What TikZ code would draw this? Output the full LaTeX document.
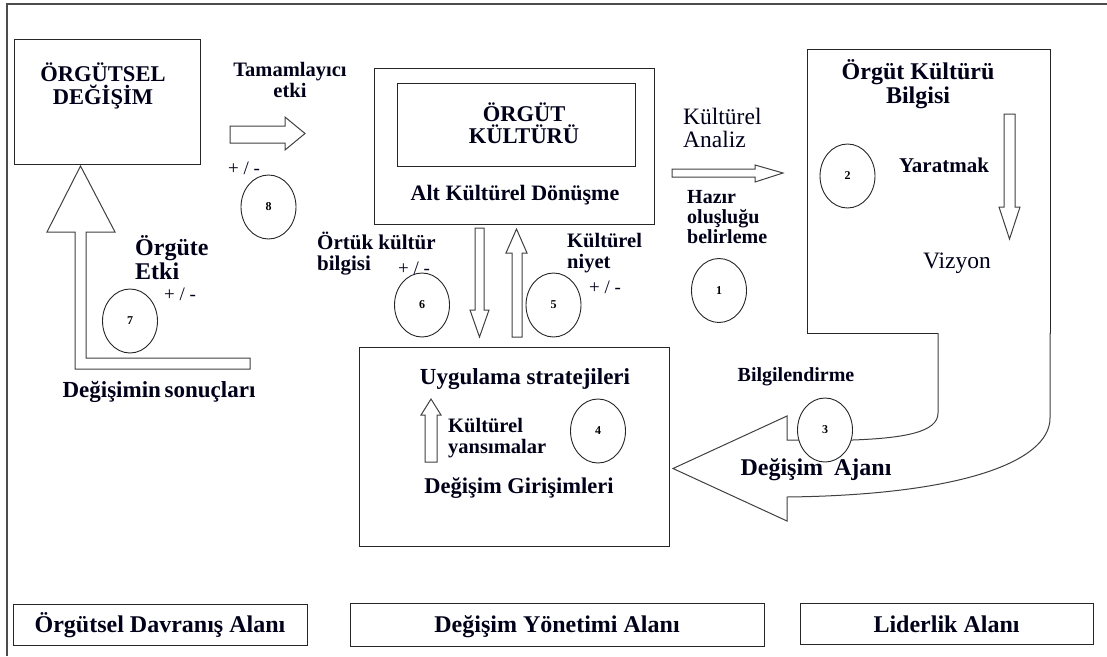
\documentclass[tikz,border=0pt]{standalone}
\usepackage{fontspec}
\setmainfont{Liberation Serif}
\usetikzlibrary{shapes.geometric}
\newcommand{\fsz}[2]{\fontsize{#1}{#2}\selectfont}
\tikzset{
  box/.style={draw=black!85, line width=1.1pt},
  num/.style={draw=black!85, line width=0.9pt, ellipse, minimum width=55pt, minimum height=64pt, inner sep=0pt, fill=white, font=\bfseries\fsz{12}{12}},
  blk/.style={draw=black!75, line width=1pt, fill=white, line join=miter},
  frame/.style={draw=black!70, line width=1.3pt},
  bt/.style={font=\bfseries\fsz{#1}{#1}, inner sep=0pt, text=black!90!blue},
  rt/.style={font=\fsz{#1}{#1}, inner sep=0pt, text=black!90!blue},
}
\begin{document}
\begin{tikzpicture}[x=1pt,y=-1pt]
\useasboundingbox (0,0) rectangle (1107,656);
% outer frame (left and top only)
\draw[frame] (7,656) -- (7,4) -- (1107,4);

% boxes
\node[box, minimum width=186pt, minimum height=125pt, anchor=north west] (oc) at (14,39) {};
\node[box, minimum width=280pt, minimum height=156pt, anchor=north west] (kult) at (374,68) {};
\node[box, minimum width=238pt, minimum height=83pt, anchor=north west] (kultin) at (397,83) {};
\node[box, minimum width=243pt, minimum height=284pt, anchor=north west] (bilgi) at (807,49) {};
\node[box, minimum width=310pt, minimum height=199pt, anchor=north west] (uyg) at (359,347) {};
\node[box, minimum width=294pt, minimum height=41pt, anchor=north west] (a1) at (13,604) {};
\node[box, minimum width=414pt, minimum height=43pt, anchor=north west] (a2) at (350,603) {};
\node[box, minimum width=293pt, minimum height=41pt, anchor=north west] (a3) at (800,603) {};

% block arrows
% Tamamlayici etki (right)
\draw[blk] (230,126) -- (285,126) -- (285,117) -- (305,133.5) -- (285,150) -- (285,143) -- (230,143) -- cycle;
% L-shaped up arrow to Orgutsel Degisim
\draw[blk] (80.5,166) -- (115,232) -- (86,232) -- (86,358) -- (250,358) -- (250,369) -- (75,369) -- (75,232) -- (47,232) -- cycle;
% down arrow kultur -> uygulama
\draw[blk] (475,228) -- (484,228) -- (484,310) -- (489,310) -- (479.5,337) -- (470,310) -- (475,310) -- cycle;
% up arrow uygulama -> kultur
\draw[blk] (512,337) -- (522,337) -- (522,253) -- (527,253) -- (516.5,229) -- (506,253) -- (512,253) -- cycle;
% Kulturel analiz (right)
\draw[blk] (672,169) -- (755,169) -- (755,165) -- (783,173) -- (755,182) -- (755,177) -- (672,177) -- cycle;
% Yaratmak (down)
\draw[blk] (1004,114) -- (1015,114) -- (1015,207) -- (1020,207) -- (1009.5,239) -- (999,207) -- (1004,207) -- cycle;
% Kulturel yansimalar (up)
\draw[blk] (425,462) -- (437,462) -- (437,415) -- (441,415) -- (431,399) -- (421,415) -- (425,415) -- cycle;
% big curved arrow Degisim Ajani
\draw[blk] (938,333) -- (938,413) .. controls (938,432) and (905,438) .. (853,440) -- (787,440) -- (787,416) -- (673,468.5) -- (787,521) -- (787,497) .. controls (960,495) and (1050,462) .. (1050,418) -- (1050,333);

% numbered ellipses
\node[num] (c8) at (268.5,207) {8};
\node[num] (c7) at (130,321) {7};
\node[num] (c6) at (422,305) {6};
\node[num] (c5) at (553.5,305) {5};
\node[num] (c1) at (719,290.5) {1};
\node[num] (c2) at (847.5,176) {2};
\node[num] (c3) at (825,430) {3};
\node[num] (c4) at (598,431) {4};

% texts
\node[bt=22.5, align=center] (toc) at (103,86) {\fsz{22.5}{22}ÖRGÜTSEL\\DEĞİŞİM};
\node[bt=20.5, align=center] (ttam) at (290,80) {\fsz{20.5}{21}Tamamlayıcı\\etki};
\node[rt=19] (pm8) at (244,168) {+ / -};
\node[bt=22.5, align=center] (tkult) at (524,123) {\fsz{22.5}{22}ÖRGÜT\\KÜLTÜRÜ};
\node[bt=22] (talt) at (515,195) {Alt Kültürel Dönüşme};
\node[rt=23.5, align=left, anchor=west] (tanal) at (683,128) {\fsz{23.5}{24}Kültürel\\Analiz};
\node[bt=20, align=left, anchor=west] (thaz) at (687,217) {\fsz{20}{20}Hazır\\oluşluğu\\belirleme};
\node[bt=24, align=center] (tbil) at (918,84) {\fsz{24}{22}Örgüt Kültürü\\Bilgisi};
\node[bt=21] (tyar) at (944,165) {Yaratmak};
\node[rt=23.5] (tviz) at (957,263) {Vizyon};
\node[bt=24, align=left, anchor=west] (tetk) at (135,258) {\fsz{24}{24}Örgüte\\Etki};
\node[rt=19] (pm7) at (180,294) {+ / -};
\node[bt=23] (tson) at (159,392) {Değişimin\hspace{-2pt} sonuçları};
\node[bt=21, align=left, anchor=west] (tort) at (317,254) {\fsz{21}{23}Örtük kültür\\bilgisi};
\node[rt=19] (pm6) at (414,268) {+ / -};
\node[bt=20.5, align=left, anchor=west] (tniy) at (567,253) {\fsz{20.5}{20}Kültürel\\niyet};
\node[rt=19] (pm5) at (605,287) {+ / -};
\node[bt=20] (tblg) at (796,377) {Bilgilendirme};
\node[bt=24] (taja) at (816,470) {Değişim\hspace{5pt} Ajanı};
\node[bt=23] (tuyg) at (525,379) {Uygulama stratejileri};
\node[bt=20.5, align=left, anchor=west] (tyan) at (448,438) {\fsz{20.5}{20}Kültürel\\yansımalar};
\node[bt=22.5] (tgir) at (519,488) {Değişim Girişimleri};
\node[bt=24, anchor=base] (ta1) at (160,632) {Örgütsel Davranış Alanı};
\node[bt=24, anchor=base] (ta2) at (557,632) {Değişim Yönetimi Alanı};
\node[bt=24, anchor=base] (ta3) at (946.5,632) {Liderlik Alanı};
\end{tikzpicture}
\end{document}
